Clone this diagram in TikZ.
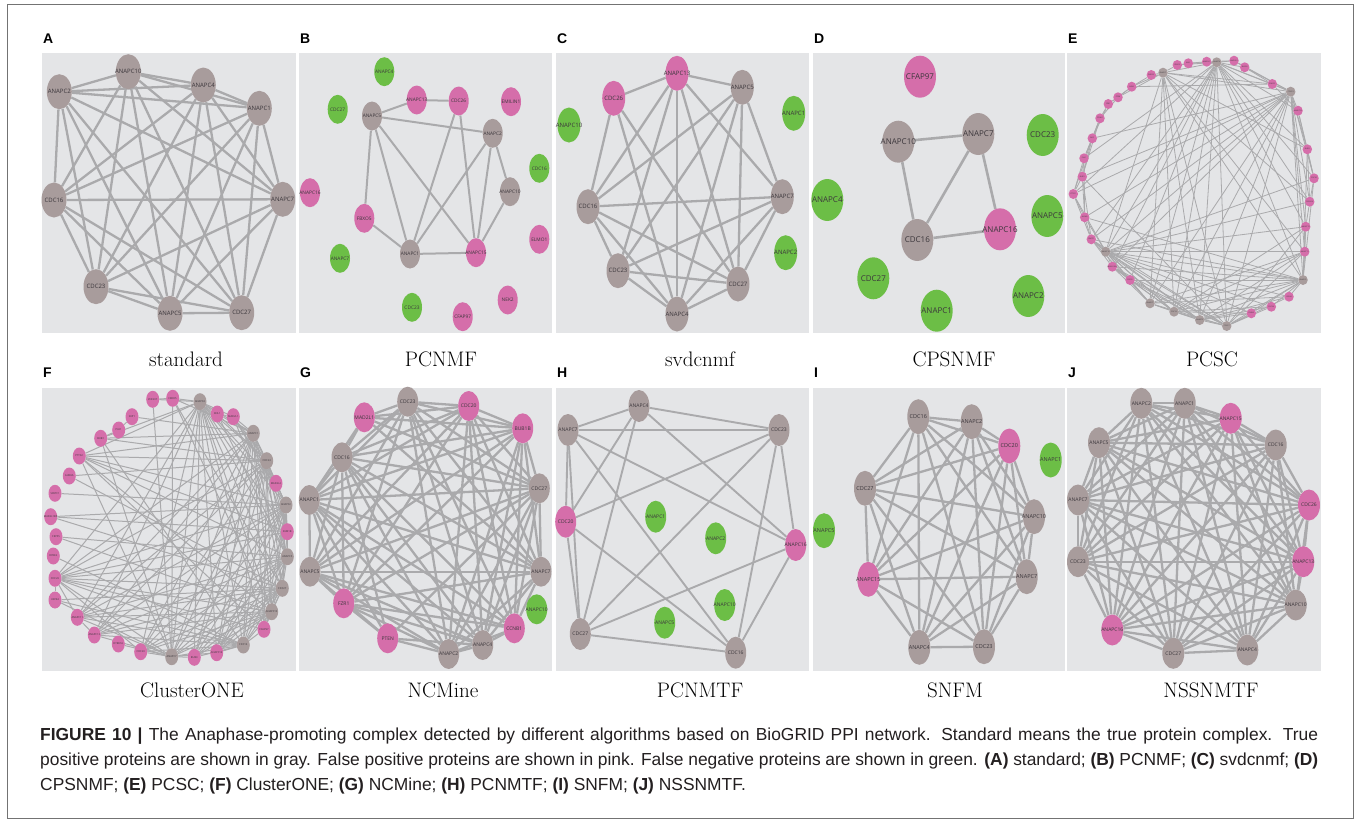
\documentclass[tikz,border=0pt]{standalone}
\usepackage{fontspec}
\newfontfamily\capfont{Liberation Sans}
\newfontfamily\labfont{Open Sans}
\usetikzlibrary{shapes.geometric}
\pgfdeclarelayer{back}
\pgfdeclarelayer{edges}
\pgfsetlayers{back,edges,main}
\definecolor{panelbg}{RGB}{228,229,231}
\definecolor{tpgray}{RGB}{168,156,156}
\definecolor{fppink}{RGB}{213,110,170}
\definecolor{fngreen}{RGB}{108,190,70}
\definecolor{edgecol}{RGB}{170,170,172}
\definecolor{labtext}{RGB}{60,55,60}
\definecolor{captext}{RGB}{35,31,32}
\newcommand\vlab[1]{\makebox[0pt]{#1}}
\newcommand\cliquelinks[1]{\foreach \ca [count=\ci] in {#1}{\foreach \cb [count=\cj] in {#1}{\ifnum\ci<\cj\relax\draw[link] (\ca) -- (\cb);\fi}}}
\newcommand\pairlinks[1]{\foreach \pa/\pb in {#1}{\draw[link] (\pa) -- (\pb);}}
\newcommand\hublinks[2]{\foreach \hb in {#2}{\draw[link] (#1) -- (\hb);}}
\tikzset{
  vsize/.style={minimum width=24pt,minimum height=34pt},
  lsize/.style={font=\labfont\fontsize{6}{7}\selectfont},
  vtx/.style={ellipse,inner sep=0pt,draw=none,vsize,lsize,text=labtext},
  tp/.style={vtx,fill=tpgray},
  fp/.style={vtx,fill=fppink},
  fn/.style={vtx,fill=fngreen},
  link/.style={draw=edgecol,line width=2.3pt},
  panel/.style={fill=panelbg,draw=none},
  plabel/.style={font=\capfont\bfseries\fontsize{14}{14}\selectfont,anchor=base west,inner sep=0pt},
  algname/.style={font=\fontsize{21}{21}\selectfont,anchor=base,inner sep=0pt},
}
\begin{document}
\begin{tikzpicture}[x=1pt,y=-1pt]
\useasboundingbox (0,0) rectangle (1360,822);
\begin{pgfonlayer}{back}\fill[white] (0,0) rectangle (1360,822);\end{pgfonlayer}
\draw[black!55,line width=0.8pt] (7,4) rectangle (1353,818);

% ---------------- A
\begin{scope}[vsize/.style={minimum width=25pt,minimum height=35pt}]
\begin{pgfonlayer}{back}\fill[panel] (42,53) rectangle (296,333);\end{pgfonlayer}
\node[plabel] (LA) at (43,43) {A};
\node[tp] (A10) at (128.3,71.7) {\vlab{ANAPC10}};
\node[tp] (A4) at (203.3,85) {\vlab{ANAPC4}};
\node[tp] (A2) at (59.3,91.7) {\vlab{ANAPC2}};
\node[tp] (A1) at (259.3,108.3) {\vlab{ANAPC1}};
\node[tp] (Ac16) at (54,200) {\vlab{CDC16}};
\node[tp] (A7) at (282.7,199.3) {\vlab{ANAPC7}};
\node[tp] (Ac23) at (96,286.7) {\vlab{CDC23}};
\node[tp] (A5) at (170,313.3) {\vlab{ANAPC5}};
\node[tp] (Ac27) at (241.7,312.7) {\vlab{CDC27}};
\begin{pgfonlayer}{edges}
\cliquelinks{A10,A4,A2,A1,Ac16,A7,Ac23,A5,Ac27}
\end{pgfonlayer}
\node[algname] (NA) at (186,366) {standard};
\end{scope}

% ---------------- B
\begin{scope}[vsize/.style={minimum width=20pt,minimum height=29pt},
  lsize/.style={font=\labfont\fontsize{4.8}{5}\selectfont},
  link/.style={draw=edgecol,line width=2pt}]
\begin{pgfonlayer}{back}\fill[panel] (299,53) rectangle (552,333);\end{pgfonlayer}
\node[plabel] (LB) at (300,43) {B};
\node[fn] (Ba4) at (384.3,71.7) {\vlab{ANAPC4}};
\node[fn] (Bc27) at (337.7,109.3) {\vlab{CDC27}};
\node[fp] (Ba13) at (416.7,100) {\vlab{ANAPC13}};
\node[fp] (Bc26) at (458.7,101) {\vlab{CDC26}};
\node[fp] (Bemi) at (511,101.7) {\vlab{EMILIN1}};
\node[tp] (Ba5) at (372,116) {\vlab{ANAPC5}};
\node[tp] (Ba2) at (492.7,133.3) {\vlab{ANAPC2}};
\node[fn] (Bc16) at (539.3,168.3) {\vlab{CDC16}};
\node[fp] (Ba16) at (310,192.7) {\vlab{ANAPC16}};
\node[tp] (Ba10) at (510,191.7) {\vlab{ANAPC10}};
\node[fp] (Bfb) at (364.3,218.3) {\vlab{FBXO5}};
\node[fp] (Belmo) at (539.3,239.3) {\vlab{ELMO1}};
\node[fn] (Ba7) at (340,258.3) {\vlab{ANAPC7}};
\node[tp] (Ba1) at (410,254) {\vlab{ANAPC1}};
\node[fp] (Ba15) at (476,252.7) {\vlab{ANAPC15}};
\node[fp] (Bnek) at (507.7,300) {\vlab{NEK2}};
\node[fn] (Bc23) at (412,307.3) {\vlab{CDC23}};
\node[fp] (Bcf) at (462.7,316.7) {\vlab{CFAP97}};
\begin{pgfonlayer}{edges}
\pairlinks{Ba5/Ba13,Ba13/Bc26,Ba5/Ba2,Ba5/Bfb,Ba5/Ba1,Ba5/Ba15,Bc26/Ba1,Bc26/Ba15,Ba2/Ba1,Ba2/Ba15,Ba2/Ba10,Ba10/Ba15,Bfb/Ba1,Ba1/Ba15}
\end{pgfonlayer}
\node[algname] (NB) at (441,366) {PCNMF};
\end{scope}

% ---------------- C
\begin{scope}[vsize/.style={minimum width=23pt,minimum height=35pt}]
\begin{pgfonlayer}{back}\fill[panel] (556,53) rectangle (809,333);\end{pgfonlayer}
\node[plabel] (LC) at (557,43) {C};
\node[fp] (Ca13) at (677,73.3) {\vlab{ANAPC13}};
\node[tp] (Ca5) at (742.3,87.3) {\vlab{ANAPC5}};
\node[fp] (Cc26) at (613.7,98.3) {\vlab{CDC26}};
\node[fn] (Ca1) at (793.7,113.3) {\vlab{ANAPC1}};
\node[fn] (Ca10) at (569,125) {\vlab{ANAPC10}};
\node[tp] (Cc16) at (588,206.7) {\vlab{CDC16}};
\node[tp] (Ca7) at (782.3,196.7) {\vlab{ANAPC7}};
\node[fn] (Ca2) at (785.7,252.7) {\vlab{ANAPC2}};
\node[tp] (Cc23) at (618,270.7) {\vlab{CDC23}};
\node[tp] (Cc27) at (738,284) {\vlab{CDC27}};
\node[tp] (Ca4) at (677,314) {\vlab{ANAPC4}};
\begin{pgfonlayer}{edges}
\cliquelinks{Ca13,Ca5,Cc16,Ca7,Cc23,Cc27,Ca4}
\pairlinks{Cc26/Ca13,Cc26/Cc16,Cc26/Ca4,Cc26/Cc27}
\end{pgfonlayer}
\node[algname] (NC) at (700,366) {svdcnmf};
\end{scope}

% ---------------- D
\begin{scope}[vsize/.style={minimum width=32pt,minimum height=42pt},
  lsize/.style={font=\labfont\fontsize{8}{9}\selectfont},
  link/.style={draw=edgecol,line width=2.6pt}]
\begin{pgfonlayer}{back}\fill[panel] (813,53) rectangle (1065,333);\end{pgfonlayer}
\node[plabel] (LD) at (814,43) {D};
\node[fp] (Dcf) at (920,76.7) {\vlab{CFAP97}};
\node[tp] (Da10) at (898.3,141.7) {\vlab{ANAPC10}};
\node[tp] (Da7) at (978.3,134) {\vlab{ANAPC7}};
\node[fn] (Dc23) at (1042.7,135) {\vlab{CDC23}};
\node[fn] (Da4) at (827.3,200) {\vlab{ANAPC4}};
\node[fn] (Da5) at (1047.3,216) {\vlab{ANAPC5}};
\node[fp] (Da16) at (1000,229.3) {\vlab{ANAPC16}};
\node[tp] (Dc16) at (917.3,240) {\vlab{CDC16}};
\node[fn] (Dc27) at (873.3,278.3) {\vlab{CDC27}};
\node[fn] (Da2) at (1028.3,296) {\vlab{ANAPC2}};
\node[fn] (Da1) at (936.7,310.7) {\vlab{ANAPC1}};
\begin{pgfonlayer}{edges}
\pairlinks{Da10/Da7,Da10/Dc16,Da7/Dc16,Da7/Da16,Dc16/Da16}
\end{pgfonlayer}
\node[algname] (ND) at (954,366) {CPSNMF};
\end{scope}

% ---------------- E
\begin{scope}[vsize/.style={minimum width=9.5pt,minimum height=10pt},
  lsize/.style={font=\labfont\fontsize{1.8}{2}\selectfont},
  link/.style={draw=edgecol,line width=0.8pt}]
\begin{pgfonlayer}{back}\fill[panel] (1067,53) rectangle (1321,333);\end{pgfonlayer}
\node[plabel] (LE) at (1068,43) {E};
\foreach \vi/\vx/\vy/\vc/\vn in {
 1/1151.3/75/fppink/ZNF207, 2/1163/72.7/tpgray/ANAPC1, 3/1177.3/65/fppink/FBXO5,
 4/1188.3/63.3/fppink/KNL1, 5/1206.7/61.7/fppink/MAD2L1, 6/1216.7/62.3/tpgray/ANAPC4,
 7/1234/60.7/fppink/MAD2L2, 8/1244.7/67.3/fppink/BUB1B, 9/1272.3/84/fppink/CFAP97,
 10/1290.7/91.7/tpgray/CDC23, 11/1298/110.7/fppink/ANAPC16, 12/1307.3/149.3/fppink/BUB3,
 13/1314/178.3/fppink/CDC20, 14/1309.7/201.7/fppink/DYRK1A, 15/1305.7/226.7/fppink/ANAPC13,
 16/1304.7/251.7/fppink/ANAPC11, 17/1303/280/tpgray/ANAPC2, 18/1289/296.7/fppink/USP44,
 19/1271.3/306.7/fppink/CDC26, 20/1251.3/313.3/fppink/DYRK2, 21/1226.7/326/tpgray/CDC27,
 22/1199.7/320/tpgray/ANAPC5, 23/1174/311.7/tpgray/CDC16, 24/1150/303.3/tpgray/ANAPC7,
 25/1130/280/fppink/CEP55, 26/1112.3/266.7/fppink/MAD2L1BP, 27/1105.7/251.7/tpgray/ANAPC10,
 28/1091.3/239.3/fppink/SPATC1, 29/1084.7/217.3/fppink/AURKA, 30/1073.3/194/fppink/PTTG1,
 31/1082.3/176.7/fppink/BUB1, 32/1084/158.3/fppink/PLK1, 33/1092.3/138.3/fppink/SKP1,
 34/1100/118.3/fppink/CCNB1, 35/1108.3/104/fppink/FZR1, 36/1118/97.3/fppink/PTEN,
 37/1131.7/86.7/fppink/NEK2}
 {\node[vtx,fill=\vc] (e\vi) at (\vx,\vy) {\vlab{\vn}};}
\begin{pgfonlayer}{edges}
\cliquelinks{e2,e6,e10,e17,e21,e22,e23,e24,e27}
\foreach \hg/\hts in {2/{1,3,37,36,16,12,14,9},
  6/{3,4,5,7,8,9,11,12,13,14,15,25,26,28,30,32},
  10/{7,8,9,11,12,13,14,15,16,26,28,29,30,31,33},
  17/{15,16,18,19,20,25,26,28,29,13,12},
  21/{18,19,20,25,26,28,31,16,15},
  22/{18,19,20,25,26,28,16},
  23/{19,20,25,26,28,16,15},
  24/{25,26,28,16,18},
  27/{25,26,28,29,30,16,18,19,20,15,14,13}}
 {\foreach \tg in \hts {\draw[link] (e\hg) -- (e\tg);}}
\foreach \pa/\pb in {25/26,26/28,28/29,29/30,30/31,31/32,32/33,33/34,34/35,35/36,36/37,37/1,
  28/30,29/31,30/32,31/33,32/34,33/35,34/36,35/37,29/32,30/33,31/34,28/31,37/9,
  11/12,12/13,13/14,14/15,15/16,11/13,12/14,9/11,3/4,4/5,5/7,7/8,8/9}
 {\draw[link] (e\pa) -- (e\pb);}
\end{pgfonlayer}
\node[algname] (NE) at (1212,366) {PCSC};
\end{scope}

% ---------------- F
\begin{scope}[vsize/.style={minimum width=13pt,minimum height=17pt},
  lsize/.style={font=\labfont\fontsize{2.6}{3}\selectfont},
  link/.style={draw=edgecol,line width=1pt}]
\begin{pgfonlayer}{back}\fill[panel] (42,388) rectangle (296,671);\end{pgfonlayer}
\node[plabel] (LF) at (43,377) {F};
\foreach \vi/\vx/\vy/\vc/\vn in {
 1/152.7/399.3/fppink/ZNF207, 2/172.7/398.3/fppink/FBXO5, 3/200/401.7/tpgray/ANAPC4,
 4/217.3/414/fppink/KNL1, 5/233.3/416.7/fppink/MAD2L1, 6/253.3/433.3/tpgray/ANAPC1,
 7/266.7/460.7/tpgray/CDC23, 8/276/483.3/fppink/MAD2L2, 9/286/505/tpgray/ANAPC2,
 10/287.3/531.7/fppink/BUB1B, 11/287.3/556.7/tpgray/ANAPC5, 12/282.3/588.3/tpgray/CDC27,
 13/271.7/611.7/tpgray/ANAPC10, 14/264/629.3/fppink/CFAP97, 15/243.3/645/tpgray/CDC16,
 16/216.7/652.7/fppink/ANAPC16, 17/194.3/657.3/fppink/BUB3, 18/171.7/656.7/tpgray/ANAPC7,
 19/140.7/651.7/fppink/CDC20, 20/118.3/644/fppink/DYRK1A, 21/94.3/635/fppink/ANAPC13,
 22/77.3/617.3/fppink/ANAPC11, 23/55/600/fppink/USP44, 24/55/578.3/fppink/CDC26,
 25/53.3/556/fppink/DYRK2, 26/56/536.7/fppink/CEP55, 27/50.7/516.7/fppink/MAD2L1BP,
 28/55/493.3/fppink/SPATC1, 29/69.3/476/fppink/AURKA, 30/79.3/456/fppink/PTTG1,
 31/100.7/438.3/fppink/BUB1, 32/118.7/430/fppink/PLK1, 33/132/416.7/fppink/SKP1}
 {\node[vtx,fill=\vc] (f\vi) at (\vx,\vy) {\vlab{\vn}};}
\begin{pgfonlayer}{edges}
\cliquelinks{f3,f6,f7,f9,f11,f12,f13,f15,f18}
\foreach \hg/\hts in {3/{1,2,4,5,8,10,14,16,17,19,21,22,24,30,31},
  6/{2,4,5,8,10,14,16,17,19,21,22,24,30,31,33},
  7/{4,5,8,10,14,16,17,19,21,22,24,29,30,31},
  9/{8,10,14,16,17,19,21,22,24,27,28,30,5},
  11/{10,14,16,17,19,21,22,24,26,30,4,5},
  12/{10,14,16,17,19,21,22,24,23,27,29,2},
  13/{14,16,17,19,21,22,24,26,30,2},
  15/{14,16,17,19,21,22,24,23,25,31},
  18/{16,17,19,20,21,22,24,23,30,31,2,1}}
 {\foreach \tg in \hts {\draw[link] (f\hg) -- (f\tg);}}
\foreach \pa/\pb in {19/24,21/22,22/24,23/24,31/32,32/33,10/27,8/10,4/5,2/1,10/16,5/8,30/10,30/14,24/10,24/14}
 {\draw[link] (f\pa) -- (f\pb);}
\end{pgfonlayer}
\node[algname] (NF) at (192,697) {ClusterONE};
\end{scope}

% ---------------- G
\begin{scope}[vsize/.style={minimum width=21pt,minimum height=30pt},
  lsize/.style={font=\labfont\fontsize{5}{6}\selectfont}]
\begin{pgfonlayer}{back}\fill[panel] (299,388) rectangle (552,671);\end{pgfonlayer}
\node[plabel] (LG) at (300,377) {G};
\node[tp] (Gc23) at (407.7,401.7) {\vlab{CDC23}};
\node[fp] (Gc20) at (468.7,406) {\vlab{CDC20}};
\node[fp] (Gmad) at (364.3,417.3) {\vlab{MAD2L1}};
\node[fp] (Gbub) at (522.7,428.3) {\vlab{BUB1B}};
\node[tp] (Gc16) at (342,457.3) {\vlab{CDC16}};
\node[tp] (Gc27) at (539.3,488.3) {\vlab{CDC27}};
\node[tp] (Ga1) at (309.3,500) {\vlab{ANAPC1}};
\node[tp] (Ga5) at (310,571.7) {\vlab{ANAPC5}};
\node[tp] (Ga7) at (541,571.7) {\vlab{ANAPC7}};
\node[fp] (Gfzr) at (343.7,603.3) {\vlab{FZR1}};
\node[fn] (Ga10) at (536.7,609.3) {\vlab{ANAPC10}};
\node[fp] (Gccn) at (514.3,628.3) {\vlab{CCNB1}};
\node[fp] (Gpten) at (387.7,638.3) {\vlab{PTEN}};
\node[tp] (Ga4) at (482.7,645) {\vlab{ANAPC4}};
\node[tp] (Ga2) at (448.7,654) {\vlab{ANAPC2}};
\begin{pgfonlayer}{edges}
\cliquelinks{Gc23,Gc20,Gbub,Gc16,Gc27,Ga1,Ga5,Ga7,Gfzr,Gccn,Ga4,Ga2}
\hublinks{Gmad}{Gc23,Gc20,Gbub,Gc16,Gc27,Ga1,Ga7}
\hublinks{Gpten}{Ga2,Ga4,Ga5,Gfzr,Gc16,Ga1,Gc27}
\end{pgfonlayer}
\node[algname] (NG) at (443,697) {NCMine};
\end{scope}

% ---------------- H
\begin{scope}[vsize/.style={minimum width=21pt,minimum height=32pt},
  lsize/.style={font=\labfont\fontsize{5}{6}\selectfont},
  link/.style={draw=edgecol,line width=1.9pt}]
\begin{pgfonlayer}{back}\fill[panel] (556,388) rectangle (809,671);\end{pgfonlayer}
\node[plabel] (LH) at (557,377) {H};
\node[tp] (Ha4) at (639,406) {\vlab{ANAPC4}};
\node[tp] (Ha7) at (568,430) {\vlab{ANAPC7}};
\node[tp] (Hc23) at (779,430) {\vlab{CDC23}};
\node[fp] (Hc20) at (565.7,521.7) {\vlab{CDC20}};
\node[fn] (Ha1) at (655.7,516.7) {\vlab{ANAPC1}};
\node[fn] (Ha2) at (715.7,538.3) {\vlab{ANAPC2}};
\node[fp] (Ha16) at (795.7,545) {\vlab{ANAPC16}};
\node[fn] (Ha10) at (724.7,605) {\vlab{ANAPC10}};
\node[fn] (Ha5) at (664.7,622.7) {\vlab{ANAPC5}};
\node[tp] (Hc27) at (580.3,634) {\vlab{CDC27}};
\node[tp] (Hc16) at (735.7,652.7) {\vlab{CDC16}};
\begin{pgfonlayer}{edges}
\pairlinks{Ha7/Ha4,Ha7/Hc23,Ha4/Hc23,Ha7/Hc20,Ha7/Hc27,Ha7/Hc16,Ha7/Ha16,Ha4/Hc20,Ha4/Hc27,Ha4/Ha16,Hc23/Hc20,Hc23/Hc27,Hc23/Ha16,Hc23/Hc16,Hc20/Hc27,Hc20/Hc16,Ha16/Hc27,Ha16/Hc16,Hc27/Hc16}
\end{pgfonlayer}
\node[algname] (NH) at (700,697) {PCNMTF};
\end{scope}

% ---------------- I
\begin{scope}[vsize/.style={minimum width=22pt,minimum height=35pt},
  lsize/.style={font=\labfont\fontsize{5.5}{6}\selectfont}]
\begin{pgfonlayer}{back}\fill[panel] (813,388) rectangle (1065,671);\end{pgfonlayer}
\node[plabel] (LI) at (814,377) {I};
\node[tp] (Ic16) at (918.3,416.7) {\vlab{CDC16}};
\node[tp] (Ia2) at (971.7,421.7) {\vlab{ANAPC2}};
\node[fp] (Ic20) at (1009.3,446) {\vlab{CDC20}};
\node[fn] (Ia1) at (1050.7,460) {\vlab{ANAPC1}};
\node[tp] (Ic27) at (865,488.3) {\vlab{CDC27}};
\node[tp] (Ia10) at (1034,516.7) {\vlab{ANAPC10}};
\node[fn] (Ia5) at (824,530.7) {\vlab{ANAPC5}};
\node[fp] (Ia15) at (868.3,579.3) {\vlab{ANAPC15}};
\node[tp] (Ia7) at (1026.7,576.7) {\vlab{ANAPC7}};
\node[tp] (Ia4) at (919.3,647.3) {\vlab{ANAPC4}};
\node[tp] (Ic23) at (984,646.7) {\vlab{CDC23}};
\begin{pgfonlayer}{edges}
\cliquelinks{Ic16,Ia2,Ic20,Ic27,Ia10,Ia15,Ia7,Ia4,Ic23}
\end{pgfonlayer}
\node[algname] (NI) at (955,697) {SNFM};
\end{scope}

% ---------------- J
\begin{scope}[vsize/.style={minimum width=22pt,minimum height=31pt},
  lsize/.style={font=\labfont\fontsize{5}{6}\selectfont}]
\begin{pgfonlayer}{back}\fill[panel] (1067,388) rectangle (1321,671);\end{pgfonlayer}
\node[plabel] (LJ) at (1068,377) {J};
\node[tp] (Ja2) at (1141.3,403.3) {\vlab{ANAPC2}};
\node[tp] (Ja1) at (1184.7,403.3) {\vlab{ANAPC1}};
\node[fp] (Ja15) at (1230.7,418.3) {\vlab{ANAPC15}};
\node[tp] (Ja5) at (1099,442.7) {\vlab{ANAPC5}};
\node[tp] (Jc16) at (1275.7,445) {\vlab{CDC16}};
\node[tp] (Ja7) at (1078,500) {\vlab{ANAPC7}};
\node[fp] (Jc26) at (1309,505) {\vlab{CDC26}};
\node[tp] (Jc23) at (1078,561.7) {\vlab{CDC23}};
\node[fp] (Ja13) at (1303.3,561.7) {\vlab{ANAPC13}};
\node[tp] (Ja10) at (1295.7,605) {\vlab{ANAPC10}};
\node[fp] (Ja16) at (1112.3,630) {\vlab{ANAPC16}};
\node[tp] (Jc27) at (1173.3,653.3) {\vlab{CDC27}};
\node[tp] (Ja4) at (1247.3,650) {\vlab{ANAPC4}};
\begin{pgfonlayer}{edges}
\cliquelinks{Ja2,Ja1,Ja15,Ja5,Jc16,Ja7,Jc26,Jc23,Ja13,Ja10,Ja16,Jc27,Ja4}
\end{pgfonlayer}
\node[algname] (NJ) at (1211,697) {NSSNMTF};
\end{scope}

% ---------------- caption
\begin{scope}[every node/.style={anchor=base west,inner sep=0pt,text=captext,font=\capfont\fontsize{17.4}{17.4}\selectfont}]
\node (cap1) at (40,740) {\makebox[1278pt][s]{\textbf{FIGURE 10 |} The Anaphase-promoting complex detected by different algorithms based on BioGRID PPI network. Standard means the true protein complex. True}};
\node (cap2) at (40,765) {\makebox[1278pt][s]{positive proteins are shown in gray. False positive proteins are shown in pink. False negative proteins are shown in green. \textbf{(A)} standard; \textbf{(B)} PCNMF; \textbf{(C)} svdcnmf; \textbf{(D)}}};
\node (cap3) at (40,790) {CPSNMF; \textbf{(E)} PCSC; \textbf{(F)} ClusterONE; \textbf{(G)} NCMine; \textbf{(H)} PCNMTF; \textbf{(I)} SNFM; \textbf{(J)} NSSNMTF.};
\end{scope}
\end{tikzpicture}
\end{document}
